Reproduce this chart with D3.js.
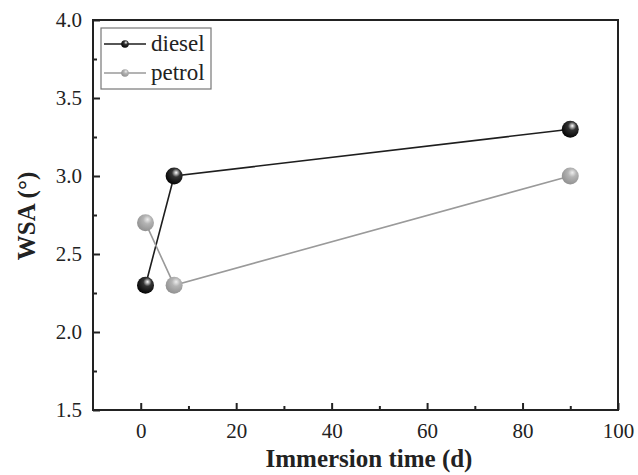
<!DOCTYPE html>
<html>
<head>
<meta charset="utf-8">
<script src="https://cdn.jsdelivr.net/npm/d3@7"></script>
<style>
  body { margin: 0; background: #fff; }
  svg { display: block; font-family: "Liberation Serif", "DejaVu Serif", serif; }
</style>
</head>
<body>
<div id="chart"></div>
<script>
// data
var days = [1, 7, 90];
var diesel = [2.3, 3.0, 3.3];
var petrol = [2.7, 2.3, 3.0];
var xTicks = [0, 20, 40, 60, 80, 100];
var yTicks = [1.5, 2.0, 2.5, 3.0, 3.5, 4.0];

var W = 638, H = 475;
var svg = d3.select('#chart').append('svg')
  .attr('width', W)
  .attr('height', H);

var x = d3.scaleLinear().domain([-10, 100]).range([93, 618]);
var y = d3.scaleLinear().domain([1.5, 4.0]).range([410, 20]);

// sphere-like marker gradients
var defs = svg.append('defs');
function ball(id, c0, c1, c2) {
  var g = defs.append('radialGradient').attr('id', id)
    .attr('cx', '0.6').attr('cy', '0.35').attr('r', '0.7')
    .attr('fx', '0.62').attr('fy', '0.3');
  g.append('stop').attr('offset', '0%').attr('stop-color', c0);
  g.append('stop').attr('offset', '35%').attr('stop-color', c1);
  g.append('stop').attr('offset', '100%').attr('stop-color', c2);
}
ball('gDiesel', '#ffffff', '#333333', '#000000');
ball('gPetrol', '#eeeeee', '#b4b4b4', '#8e8e8e');

var series = [
  {name: 'diesel', values: diesel, line: '#1e1e1e', fill: 'url(#gDiesel)'},
  {name: 'petrol', values: petrol, line: '#9a9a9a', fill: 'url(#gPetrol)'}
];

// axes, ticks pointing inward
var xAxis = d3.axisBottom(x).tickValues(xTicks).tickSize(-7).tickPadding(13)
  .tickFormat(d3.format('d'));
var xMinor = d3.axisBottom(x).tickValues([10, 30, 50, 70, 90]).tickSize(-4).tickFormat('');
var yAxis = d3.axisLeft(y).tickValues(yTicks).tickSize(-7).tickPadding(11)
  .tickFormat(d3.format('.1f'));
var yMinor = d3.axisLeft(y).tickValues([1.75, 2.25, 2.75, 3.25, 3.75]).tickSize(-4).tickFormat('');

function styleAxis(g) {
  g.attr('font-family', '"Liberation Serif", serif').attr('font-size', 21);
  g.select('.domain').remove();
  g.selectAll('.tick line').attr('stroke', '#222').attr('stroke-width', 2);
  g.selectAll('.tick text').attr('fill', '#222');
}

svg.append('g').attr('transform', 'translate(0,410)').call(xAxis).call(styleAxis);
svg.append('g').attr('transform', 'translate(0,410)').call(xMinor).call(styleAxis);
svg.append('g').attr('transform', 'translate(93,0)').call(yAxis).call(styleAxis);
svg.append('g').attr('transform', 'translate(93,0)').call(yMinor).call(styleAxis);

// frame
svg.append('rect')
  .attr('x', x.range()[0]).attr('y', y.range()[1])
  .attr('width', x.range()[1] - x.range()[0])
  .attr('height', y.range()[0] - y.range()[1])
  .attr('fill', 'none').attr('stroke', '#222').attr('stroke-width', 2);

// lines
var line = d3.line()
  .x(function(d, i) { return x(days[i]); })
  .y(function(d) { return y(d); });

series.forEach(function(s) {
  svg.append('path').datum(s.values)
    .attr('d', line)
    .attr('fill', 'none')
    .attr('stroke', s.line)
    .attr('stroke-width', 1.6);
});

// markers
series.forEach(function(s) {
  svg.append('g').selectAll('circle')
    .data(s.values)
    .enter()
    .append('circle')
    .attr('cx', function(d, i) { return x(days[i]); })
    .attr('cy', function(d) { return y(d); })
    .attr('r', 8.5)
    .attr('fill', s.fill);
});

// legend
var lg = svg.append('g');
lg.append('rect')
  .attr('x', 101).attr('y', 28).attr('width', 110).attr('height', 61)
  .attr('fill', '#fff').attr('stroke', '#777').attr('stroke-width', 1.2);
series.forEach(function(s, i) {
  var ly = 44 + i * 29;
  lg.append('line')
    .attr('x1', 104).attr('x2', 146).attr('y1', ly).attr('y2', ly)
    .attr('stroke', s.line).attr('stroke-width', 1.6);
  lg.append('circle')
    .attr('cx', 125).attr('cy', ly).attr('r', 3.8)
    .attr('fill', s.fill);
  lg.append('text')
    .attr('x', 151).attr('y', ly + 7)
    .attr('fill', '#222')
    .style('font-size', '23px')
    .text(s.name);
});

// axis titles
svg.append('text')
  .attr('x', 369).attr('y', 467)
  .attr('text-anchor', 'middle')
  .attr('fill', '#222')
  .style('font-size', '25px').style('font-weight', 'bold')
  .text('Immersion time (d)');

svg.append('text')
  .attr('transform', 'translate(35,216) rotate(-90)')
  .attr('text-anchor', 'middle')
  .attr('fill', '#222')
  .style('font-size', '25px').style('font-weight', 'bold')
  .text('WSA (°)');
</script>
</body>
</html>
